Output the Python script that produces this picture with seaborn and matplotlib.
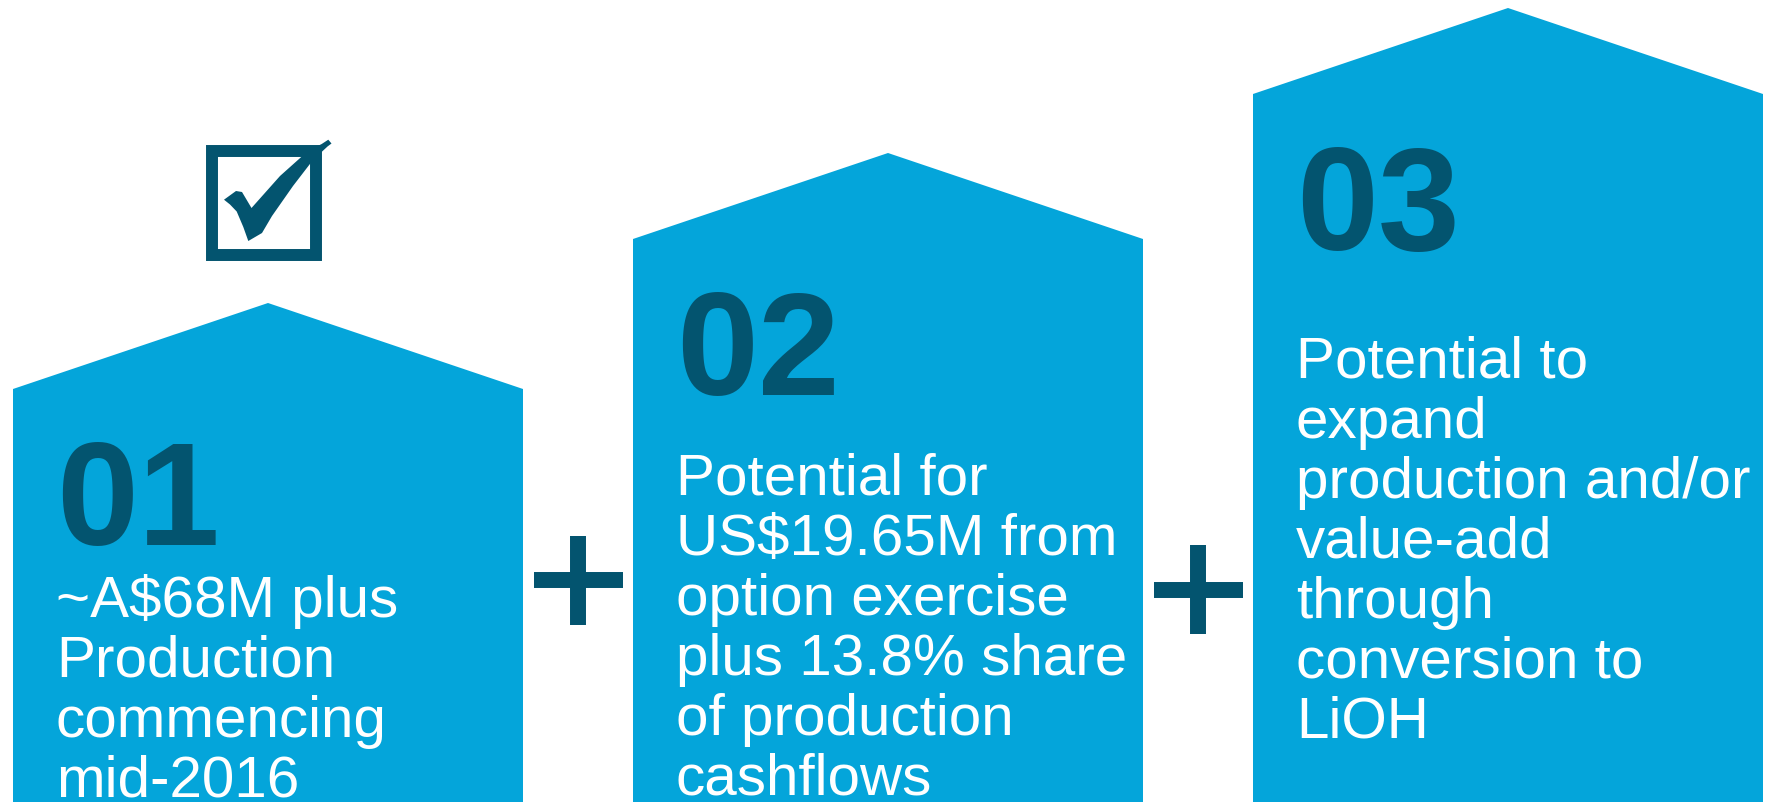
import seaborn as sns
import matplotlib.pyplot as plt
from matplotlib.patches import Polygon, Rectangle

sns.set_theme(style="white")
plt.rcParams['font.family'] = ['Liberation Sans', 'DejaVu Sans']

BLUE = "#04A5DA"
DARK = "#03546F"

# data
steps = ["01", "02", "03"]
heights = [413, 563, 708]          # wall height of each house (px from bottom)
roof = 86
descriptions = [
    "~A$68M plus\nProduction\ncommencing\nmid-2016",
    "Potential for\nUS$19.65M from\noption exercise\nplus 13.8% share\nof production\ncashflows",
    "Potential to\nexpand\nproduction and/or\nvalue-add\nthrough\nconversion to\nLiOH",
]
done = [True, False, False]

# layout
text_drop = [227, 255, 283]   # first text baseline below the wall top
line_gap = 60
num_drop = 155
pad = 43 / 620
plus_y = [222, 212.5]

fig = plt.figure(figsize=(17.67, 8.03), dpi=100)
ax = fig.add_axes([0, 0, 1, 1])

sns.barplot(x=steps, y=heights, color=BLUE, saturation=1, width=510 / 620,
            linewidth=0, ax=ax)
ax.set_xlim(-268 / 620, (1767 - 268) / 620)
ax.set_ylim(0, 803)
ax.axis('off')


def px(x, y):
    # pixel position (from top-left) -> data coords, for the icons
    return ((x - 268) / 620, 803 - y)


for i, p in enumerate(ax.patches):
    x0, w, h = p.get_x(), p.get_width(), p.get_height()
    ax.add_patch(Polygon([(x0, h - 2), (x0, h), (x0 + w / 2, h + roof),
                          (x0 + w, h), (x0 + w, h - 2)],
                         closed=True, color=BLUE, lw=0))
    ax.text(x0 + pad, h - num_drop, steps[i], color=DARK, fontsize=106,
            fontweight='bold', va='baseline', ha='left')
    for k, line in enumerate(descriptions[i].split("\n")):
        ax.text(x0 + pad, h - text_drop[i] - k * line_gap, line, color='white',
                fontsize=42, va='baseline', ha='left', parse_math=False)

# plus signs between the houses
for i, cy in enumerate(plus_y):
    ax.plot([i + 0.5 - 44.5 / 620, i + 0.5 + 44.5 / 620], [cy, cy],
            color=DARK, lw=11.5, solid_capstyle='butt')
    ax.plot([i + 0.5, i + 0.5], [cy - 44.5, cy + 44.5],
            color=DARK, lw=11.5, solid_capstyle='butt')

# check box above the finished step
for i, d in enumerate(done):
    if not d:
        continue
    x0, y0 = px(212, 256)
    x1, y1 = px(316, 152)
    ax.add_patch(Rectangle((x0 + i, y0), x1 - x0, y1 - y0, fill=False,
                           ec=DARK, lw=8.6, joinstyle='miter'))
    tick = [(224, 200.7), (236, 192), (242, 193), (251.5, 209),
            (280, 177), (308.3, 151.7), (321.7, 145), (328.3, 140.7),
            (331.5, 144.5), (327.5, 147.5), (313, 161), (293, 187),
            (272, 217), (262, 234), (248.3, 242), (243.3, 228),
            (236.7, 212.5), (230, 205.5)]
    pts = [px(a, b) for a, b in tick]
    ax.add_patch(Polygon([(a + i, b) for a, b in pts], closed=True,
                         color=DARK, lw=0))

fig.savefig("out.png", dpi=100, facecolor='white')
